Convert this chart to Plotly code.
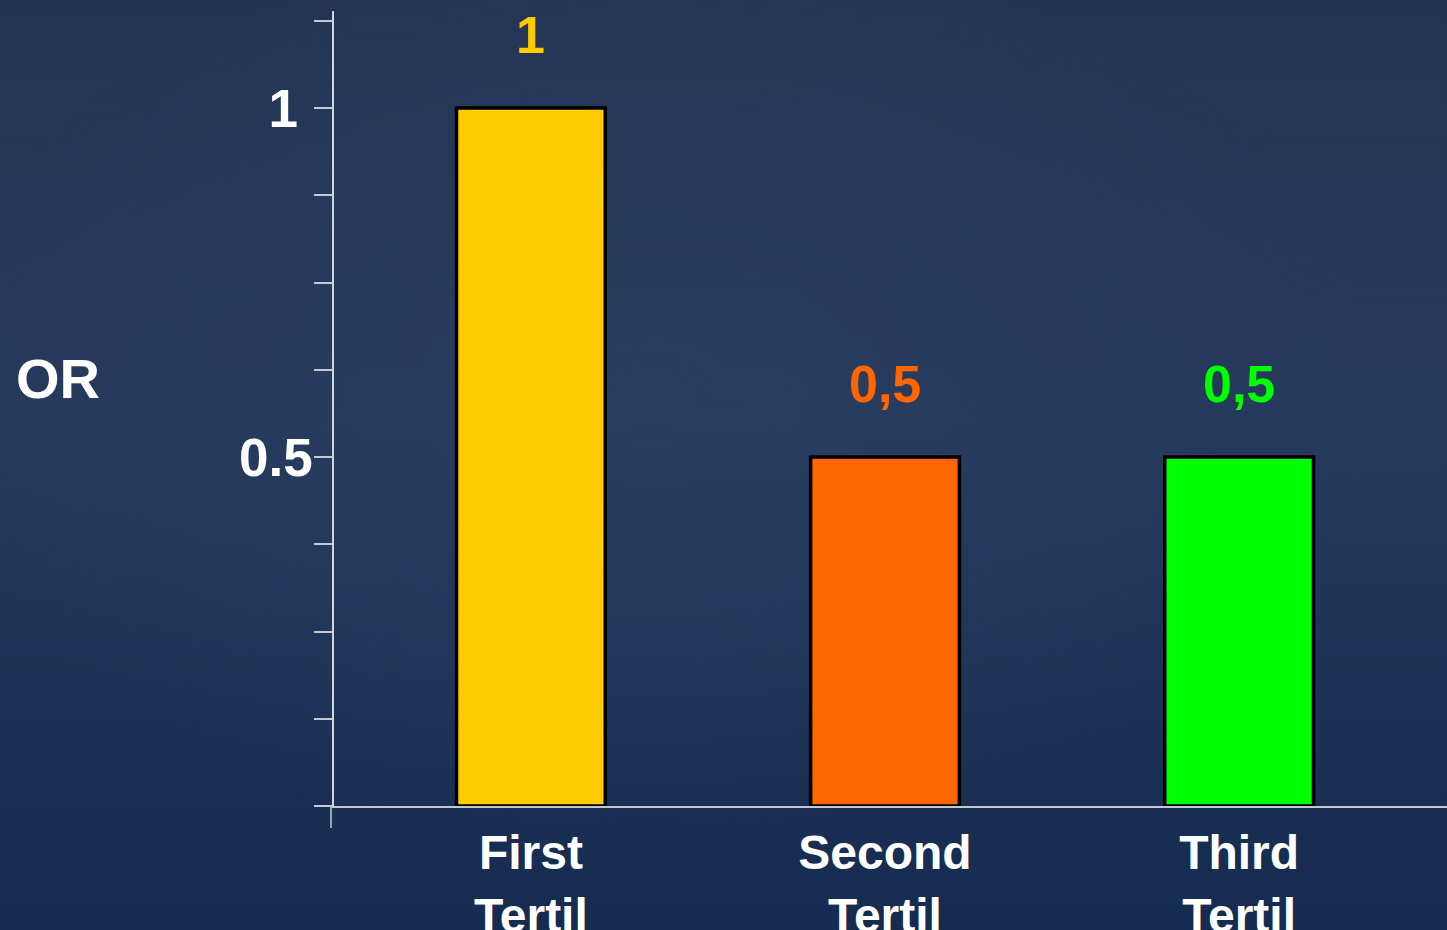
import base64
import plotly.graph_objects as go

# Odds ratio by tertile
categories = ["First<br>Tertil", "Second<br>Tertil", "Third<br>Tertil"]
odds_ratio = [1.0, 0.5, 0.5]
value_labels = ["1", "0,5", "0,5"]
bar_colors = ["#FFCC00", "#FF6600", "#00FF00"]

y_tick_vals = [0, 0.125, 0.25, 0.375, 0.5, 0.625, 0.75, 0.875, 1.0, 1.125]
y_tick_text = ["", "", "", "", "0.5", "", "", "", "1\u00a0", ""]

W, H = 1447, 930
M_L, M_R, M_T, M_B = 334, 0, 11, 124
PW, PH = W - M_L - M_R, H - M_T - M_B

FONT = "Liberation Sans, Arial, sans-serif"

# Navy slide background with a soft lighter centre
svg = f"""<svg xmlns='http://www.w3.org/2000/svg' width='{W}' height='{H}'>
<defs>
<linearGradient id='lg' x1='0' y1='0' x2='0' y2='1'>
<stop offset='0' stop-color='#233453'/>
<stop offset='0.45' stop-color='#25395b'/>
<stop offset='1' stop-color='#152b50'/>
</linearGradient>
<radialGradient id='rg' cx='0.45' cy='0.42' r='0.5'>
<stop offset='0' stop-color='#2c4165' stop-opacity='0.55'/>
<stop offset='1' stop-color='#2c4165' stop-opacity='0'/>
</radialGradient>
</defs>
<rect width='{W}' height='{H}' fill='url(#lg)'/>
<rect width='{W}' height='{H}' fill='url(#rg)'/>
</svg>"""
bg_uri = "data:image/svg+xml;base64," + base64.b64encode(svg.encode()).decode()

fig = go.Figure()
fig.add_trace(go.Bar(
    x=categories,
    y=odds_ratio,
    width=0.42,
    marker=dict(color=bar_colors, line=dict(color="#000000", width=3.5)),
    hoverinfo="skip",
))

for cat, val, lab, col in zip(categories, odds_ratio, value_labels, bar_colors):
    fig.add_annotation(
        x=cat, y=val, text=lab, showarrow=False,
        yanchor="bottom", yshift=42,
        font=dict(family=FONT, size=52, color=col, weight="bold"),
    )

# Axis title placed at the left edge
fig.add_annotation(
    xref="paper", yref="paper", x=-M_L / PW + 14 / PW, y=(H - M_B - 378) / PH,
    xanchor="left", yanchor="middle", text="OR", showarrow=False,
    font=dict(family=FONT, size=56, color="#ffffff", weight="bold"),
)

# Short tick below the origin
fig.add_shape(
    type="line", xref="paper", yref="paper",
    x0=-3 / PW, x1=-3 / PW, y0=0, y1=-22 / PH,
    line=dict(color="#c4c8d0", width=1.5),
)

fig.add_layout_image(
    source=bg_uri, xref="paper", yref="paper",
    x=-M_L / PW, y=1 + M_T / PH, sizex=W / PW, sizey=H / PH,
    xanchor="left", yanchor="top", sizing="stretch", layer="below",
)

fig.update_layout(
    width=W, height=H,
    margin=dict(l=M_L, r=M_R, t=M_T, b=M_B),
    paper_bgcolor="#1f3356",
    plot_bgcolor="rgba(0,0,0,0)",
    showlegend=False,
    font=dict(family=FONT, color="#ffffff"),
    bargap=0.5,
)
fig.update_xaxes(
    type="category",
    range=[-0.556, 2.587],
    automargin=False,
    showline=True, linecolor="#c4c8d0", linewidth=1.5,
    showgrid=False, zeroline=False, ticks="",
    tickfont=dict(family=FONT, size=48, color="#ffffff", weight="bold"),
    ticklabelstandoff=4,
    layer="below traces",
)
fig.update_yaxes(
    range=[0, (H - M_B - M_T) / 698],
    automargin=False,
    tickvals=y_tick_vals, ticktext=y_tick_text,
    showline=True, linecolor="#d0d4dc", linewidth=1.5,
    ticks="outside", ticklen=18, tickwidth=1.5, tickcolor="#c4c8d0",
    showgrid=False, zeroline=False,
    tickfont=dict(family=FONT, size=53, color="#ffffff", weight="bold"),
    ticklabelstandoff=-9,
    layer="below traces",
)

fig.write_html("out.html")
